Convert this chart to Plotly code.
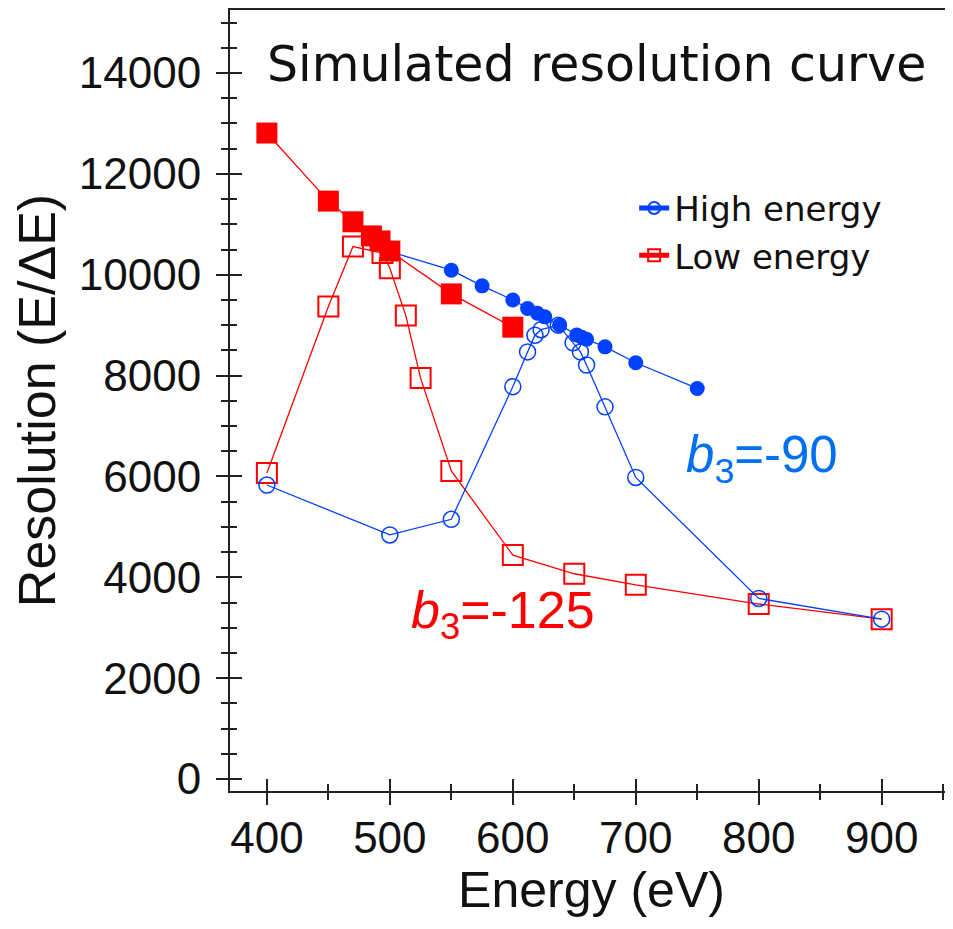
import plotly.graph_objects as go

# High energy (open circles)
he_e = [400, 500, 550, 600, 612, 618, 623, 637, 649, 655, 660, 675, 700, 800, 900]
he_r = [5830, 4840, 5150, 7780, 8470, 8800, 8910, 9000, 8650, 8470, 8210, 7380, 5980, 3580, 3170]

# Low energy (open squares)
le_e = [400, 450, 470, 494, 500, 513, 525, 550, 600, 650, 700, 800, 900]
le_r = [6070, 9370, 10560, 10430, 10130, 9190, 7950, 6110, 4440, 4070, 3850, 3470, 3170]

# High energy peak envelope (filled dots)
hp_e = [500, 550, 575, 600, 612, 620, 626, 638, 652, 656, 660, 675, 700, 750]
hp_r = [10460, 10090, 9780, 9500, 9330, 9235, 9165, 9000, 8805, 8760, 8720, 8570, 8255, 7745]

# Low energy peak envelope (filled squares)
lp_e = [400, 450, 470, 485, 492, 500, 550, 600]
lp_r = [12810, 11460, 11050, 10770, 10670, 10470, 9620, 8960]

x_ticks = [400, 500, 600, 700, 800, 900]
x_labels = ["400", "500", "600", "700", "800", "900"]
y_ticks = [0, 2000, 4000, 6000, 8000, 10000, 12000, 14000]
y_labels = ["0", "2000", "4000", "6000", "8000", "10000", "12000", "14000"]

BLUE = "#0040FF"
RED = "#FF0000"
XR = [370, 958]
YR = [-238, 15250]

fig = go.Figure()
fig.add_trace(go.Scatter(x=le_e, y=le_r, mode="lines+markers", name="Low energy",
                         line=dict(color=RED, width=1.3),
                         marker=dict(symbol="square-open", size=20, color=RED, line=dict(width=2))))
fig.add_trace(go.Scatter(x=he_e, y=he_r, mode="lines+markers", name="High energy",
                         line=dict(color=BLUE, width=1.3),
                         marker=dict(symbol="circle-open", size=16, color=BLUE, line=dict(width=1.5))))
fig.add_trace(go.Scatter(x=hp_e, y=hp_r, mode="lines+markers", showlegend=False,
                         line=dict(color=BLUE, width=1.3),
                         marker=dict(symbol="circle", size=15, color=BLUE)))
fig.add_trace(go.Scatter(x=lp_e, y=lp_r, mode="lines+markers", showlegend=False,
                         line=dict(color=RED, width=1.3),
                         marker=dict(symbol="square", size=21, color=RED)))
# dummy trace for the overlay axes that carry the inside half of the ticks
fig.add_trace(go.Scatter(x=[], y=[], xaxis="x2", yaxis="y2", showlegend=False, hoverinfo="skip"))

tickfont = dict(family="Liberation Sans, Arial", size=44, color="#111")
fig.update_layout(
    width=945, height=913,
    margin=dict(l=222, r=0, t=2, b=130, autoexpand=False),
    paper_bgcolor="white", plot_bgcolor="white",
    showlegend=True,
    legend=dict(x=0.559, y=0.783, xanchor="left", yanchor="top",
                font=dict(family="DejaVu Sans", size=34, color="#111"),
                bgcolor="rgba(0,0,0,0)", traceorder="reversed", tracegroupgap=0,
                itemsizing="constant"),
    xaxis=dict(range=XR, tickvals=x_ticks, ticktext=x_labels, ticks="outside", ticklen=12, tickwidth=2,
               tickcolor="#222", showline=True, linewidth=2, linecolor="#222", mirror=True,
               showgrid=False, zeroline=False, tickfont=tickfont, ticklabelstandoff=-5,
               automargin=False,
               minor=dict(dtick=50, tick0=0, ticks="outside", ticklen=7, tickwidth=2, tickcolor="#222"),
               title=dict(text="Energy (eV)", font=dict(family="Liberation Sans, Arial", size=50, color="#111"),
                          standoff=0)),
    yaxis=dict(range=YR, tickvals=y_ticks, ticktext=y_labels, ticks="outside", ticklen=12, tickwidth=2,
               tickcolor="#222", showline=True, linewidth=2, linecolor="#222",
               showgrid=False, zeroline=False, tickfont=tickfont, ticklabelstandoff=6,
               automargin=False,
               minor=dict(dtick=500, tick0=0, ticks="outside", ticklen=7, tickwidth=2, tickcolor="#222"),
               title=dict(text="Resolution (E/ΔE)", font=dict(family="Liberation Sans, Arial", size=52, color="#111"),
                          standoff=10)),
    xaxis2=dict(range=XR, overlaying="x", anchor="y2", side="bottom", tickvals=x_ticks,
                ticks="inside", ticklen=12, tickwidth=2, tickcolor="#222", showticklabels=False,
                showgrid=False, zeroline=False, showline=False, automargin=False,
                minor=dict(dtick=50, tick0=0, ticks="inside", ticklen=7, tickwidth=2, tickcolor="#222")),
    yaxis2=dict(range=YR, overlaying="y", anchor="x2", side="left", tickvals=y_ticks,
                ticks="inside", ticklen=12, tickwidth=2, tickcolor="#222", showticklabels=False,
                showgrid=False, zeroline=False, showline=False, automargin=False,
                minor=dict(dtick=500, tick0=0, ticks="inside", ticklen=7, tickwidth=2, tickcolor="#222")),
)

fig.add_annotation(x=668, y=14160, text="Simulated resolution curve", showarrow=False,
                   font=dict(family="DejaVu Sans", size=49, color="#111"))
fig.add_annotation(x=803, y=6350, text="<i>b</i><sub>3</sub>=-90", showarrow=False,
                   font=dict(family="Liberation Sans, Arial", size=51, color="#0070F0"))
fig.add_annotation(x=592, y=3280, text="<i>b</i><sub>3</sub>=-125", showarrow=False,
                   font=dict(family="Liberation Sans, Arial", size=52, color="#FF0000"))

fig.write_html("out.html")
